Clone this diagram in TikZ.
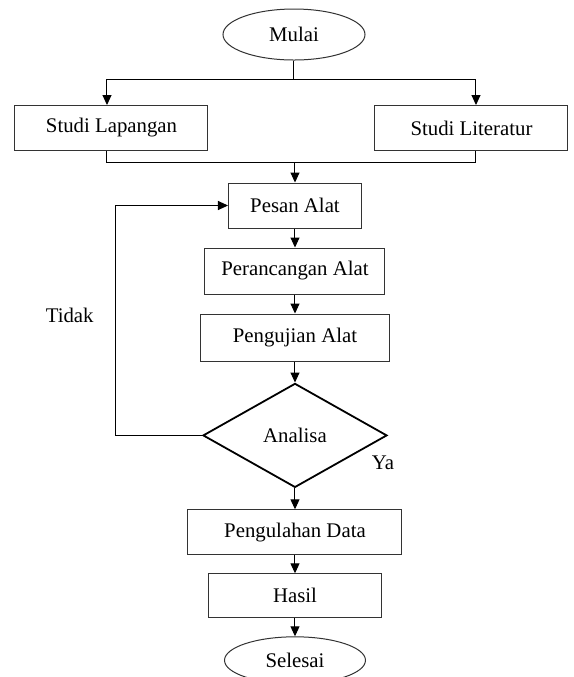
\documentclass[tikz,border=0pt]{standalone}
\usepackage{fontspec}
\setmainfont{Liberation Serif}
\usepackage{tikz}
\usetikzlibrary{positioning}
\usetikzlibrary{arrows.meta,shapes.geometric}

\tikzset{
	proses/.style={draw=black!80, rectangle, inner sep=0pt},
	terminal/.style={draw=black!80, ellipse, inner sep=0pt},
	keputusan/.style={draw, line width=0.9pt, diamond, inner sep=0pt, minimum width=92pt, minimum height=52pt},
	teks/.style={inner sep=0pt},
}

\begin{document}
\begin{tikzpicture}[x=0.5pt, y=-0.5pt, line width=0.5pt, font=\fontsize{10.4}{12}\selectfont, >={Triangle[width=4.5pt,length=5pt]}]
		\useasboundingbox (0,0) rectangle (574,677);
		
		\node[terminal, minimum width=71pt, minimum height=25.5pt] (mulai) at (294,34.5) {Mulai};
		\node[proses, minimum width=96.5pt, minimum height=22.5pt] (lap) at (111.5,128) {Studi Lapangan};
		\node[proses, minimum width=96.5pt, minimum height=22.5pt] (lit) at (471.5,128) {Studi Literatur};
		
		\node[proses, minimum width=66.5pt, minimum height=22.5pt] (pesan) at (295,205.5) {Pesan Alat};
		\node[proses, minimum width=90pt, minimum height=23pt] (rancang) [below = 9.5pt of pesan] {Perancangan Alat};
		\node[proses, minimum width=94.5pt, minimum height=23.5pt] (uji) [below = 9.5pt of rancang] {Pengujian Alat};
		\node[keputusan] (analisa) [below = 10.5pt of uji] {Analisa};
		\node[proses, minimum width=107pt, minimum height=22.5pt] (olah) [below = 10.5pt of analisa] {Pengulahan Data};
		\node[proses, minimum width=86.5pt, minimum height=22pt] (hasil) [below = 9pt of olah] {Hasil};
		\node[terminal, minimum width=70.5pt, minimum height=23.5pt] (selesai) [below = 9pt of hasil] {Selesai};
		
		% cabang ke dua studi
		\coordinate[below = 9.5pt of mulai.south] (cabang);
		\draw (mulai) -- (cabang);
		\draw[->] (cabang) -| ([xshift=-2.25pt]lap.north);
		\draw[->] (cabang) -| ([xshift=2.25pt]lit.north);
		
		\coordinate[above = 10pt of pesan.north] (gabung);
		\draw ([xshift=-2.25pt]lap.south) |- (gabung) -| ([xshift=2.25pt]lit.south);
		\draw[->] (gabung) -- (pesan);
		
		\draw[->] (pesan) -- (rancang);
		\draw[->] (rancang) -- (uji);
		\draw[->] (uji) -- (analisa);
		\draw[->] (analisa) -- (olah);
		\draw[->] (olah) -- (hasil);
		\draw[->] (hasil) -- (selesai);
		
		% kembali jika tidak
		\coordinate[left = 43.5pt of analisa.west] (balik);
		\draw[->] (analisa.west) -- (balik) |- node[teks, pos=0.26, left = 10.5pt] (tidak) {Tidak} (pesan.west);
		\node[teks] (ya) at ([xshift=-2.5pt,yshift=-13.5pt]analisa.east) {Ya};
\end{tikzpicture}
\end{document}
